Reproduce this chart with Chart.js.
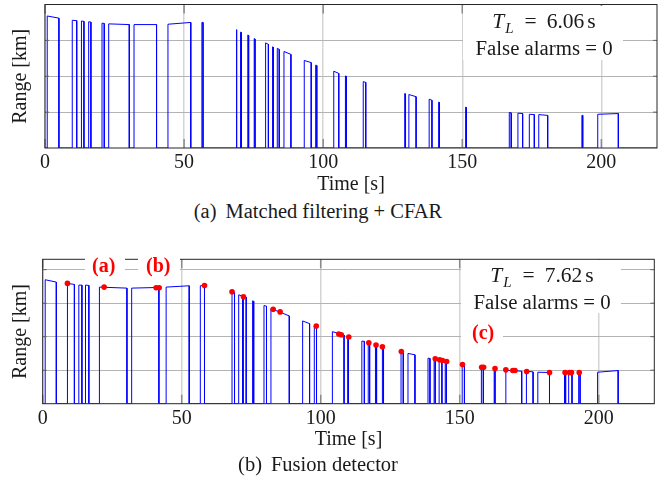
<!DOCTYPE html>
<html><head><meta charset="utf-8">
<script src="https://cdn.jsdelivr.net/npm/chart.js@4.4.0/dist/chart.umd.min.js"></script>
<style>
html,body{margin:0;padding:0;background:#fff;}
body{width:662px;height:486px;position:relative;overflow:hidden;font-family:"Liberation Serif","Times New Roman",serif;color:#1a1a1a;}
canvas{position:absolute;left:0;}
.box{position:absolute;background:#fff;}
.txt{position:absolute;text-align:center;white-space:nowrap;font-size:20.8px;}
.l1{font-size:21.5px;}
.sub{font-size:15px;font-style:italic;position:relative;top:5px;margin-left:1px;}
.eq{margin:0 10px 0 11px;}
.lbl{position:absolute;color:#f00;font-weight:bold;font-size:20px;line-height:20px;white-space:nowrap;}
.cap{position:absolute;left:0;width:636px;text-align:center;font-size:20.5px;line-height:22px;white-space:nowrap;}
.cl{margin-right:9px;}
</style></head><body>
<canvas id="cA" width="662" height="200" style="top:0"></canvas>
<canvas id="cB" width="662" height="200" style="top:255px"></canvas>

<div class="box" style="left:463px;top:5.5px;width:160px;height:54px"></div>
<div class="txt" style="left:463px;top:9.1px;width:162px;line-height:24.4px"><span class="l1"><i>T</i><span class="sub">L</span><span class="eq">=</span>6.06<span style="margin-left:3px">s</span></span><br>False alarms = 0</div>
<div class="cap" style="top:200.4px"><span class="cl">(a)</span>Matched filtering + CFAR</div>

<div class="box" style="left:461px;top:260px;width:160px;height:53px"></div>
<div class="txt" style="left:461px;top:263.3px;width:162px;line-height:23.4px"><span class="l1"><i>T</i><span class="sub">L</span><span class="eq">=</span>7.62<span style="margin-left:3px">s</span></span><br>False alarms = 0</div>
<div class="box" style="left:461px;top:325px;width:42px;height:21px"></div>
<div class="lbl" style="left:472px;top:321.5px">(c)</div>
<div class="box" style="left:85px;top:257px;width:40px;height:22px"></div>
<div class="lbl" style="left:92px;top:254.5px">(a)</div>
<div class="box" style="left:138px;top:257px;width:42px;height:22px"></div>
<div class="lbl" style="left:146px;top:254.5px">(b)</div>
<div class="cap" style="top:453.4px"><span class="cl">(b)</span>Fusion detector</div>

<script>
// ---------- data ----------
const xTicks = [0, 50, 100, 150, 200];
const yTicksA = [1, 2, 3];
const yTicksB = [1, 2, 3, 4];
const timeMax = 220;

// (a) Matched filtering + CFAR : detection pulses
const startA = [0.8, 9.8, 13.1, 15.7, 20.5, 22.9, 32.0, 44.2, 56.4, 68.7, 70.3, 72.9, 75.2, 79.3, 81.8, 83.5, 85.9, 93.2, 97.3, 103.8, 108.0, 114.4, 129.3, 130.8, 138.1, 141.5, 151.2, 166.9, 170.0, 174.1, 177.5, 193.0, 198.7];
const endA   = [5.0, 11.4, 14.0, 16.5, 21.3, 30.3, 40.1, 52.4, 56.8, 69.0, 70.6, 73.2, 75.5, 80.3, 82.1, 84.2, 88.4, 95.7, 97.7, 105.6, 108.3, 115.3, 129.6, 133.4, 139.1, 141.8, 151.5, 167.6, 171.7, 175.9, 180.7, 193.3, 206.1];
const rangeStartA = [3.68, 3.56, 3.54, 3.52, 3.48, 3.46, 3.44, 3.45, 3.50, 3.30, 3.23, 3.15, 3.05, 2.93, 2.82, 2.78, 2.69, 2.44, 2.31, 2.14, 2.01, 1.85, 1.52, 1.49, 1.36, 1.28, 1.14, 0.99, 0.97, 0.94, 0.93, 0.91, 0.94];
const rangeEndA   = [3.62, 3.55, 3.53, 3.51, 3.47, 3.44, 3.44, 3.50, 3.50, 3.29, 3.22, 3.14, 3.04, 2.89, 2.81, 2.75, 2.61, 2.38, 2.30, 2.08, 2.00, 1.83, 1.51, 1.43, 1.33, 1.27, 1.13, 0.98, 0.96, 0.93, 0.91, 0.91, 0.96];

// (b) Fusion detector : detection pulses
const startB = [0.9, 8.9, 13.0, 15.4, 20.4, 32.0, 44.4, 56.7, 68.1, 70.5, 72.2, 75.5, 79.6, 82.1, 93.5, 97.7, 104.2, 109.7, 114.8, 117.1, 119.7, 122.2, 128.9, 131.4, 138.6, 140.8, 142.6, 144.8, 150.9, 157.8, 162.4, 166.6, 174.0, 178.1, 187.7, 189.2, 192.8, 199.6];
const endB   = [4.9, 11.4, 14.1, 16.6, 30.3, 41.8, 52.7, 58.2, 69.0, 71.9, 73.2, 75.9, 80.5, 88.7, 96.0, 98.5, 108.4, 110.0, 115.7, 117.6, 120.1, 122.6, 129.7, 133.9, 139.3, 141.2, 143.6, 145.2, 151.7, 158.5, 162.7, 172.3, 176.4, 182.3, 188.1, 190.4, 193.3, 207.0];
const rangeStartB = [3.70, 3.59, 3.54, 3.54, 3.48, 3.45, 3.48, 3.52, 3.34, 3.25, 3.20, 3.07, 2.93, 2.84, 2.47, 2.32, 2.15, 2.00, 1.87, 1.82, 1.76, 1.70, 1.55, 1.50, 1.36, 1.33, 1.30, 1.26, 1.18, 1.09, 1.05, 1.00, 0.97, 0.94, 0.93, 0.93, 0.93, 0.94];
const rangeEndB   = [3.63, 3.56, 3.54, 3.53, 3.45, 3.47, 3.52, 3.53, 3.32, 3.21, 3.18, 3.06, 2.91, 2.62, 2.39, 2.31, 2.05, 1.99, 1.86, 1.82, 1.75, 1.70, 1.54, 1.46, 1.35, 1.33, 1.28, 1.26, 1.17, 1.08, 1.05, 0.97, 0.95, 0.93, 0.93, 0.93, 0.93, 0.99];

// (b) fused detections (red markers)
const dotTimeB  = [8.9, 22.1, 40.8, 41.9, 58.2, 68.1, 72.2, 82.9, 85.4, 98.4, 106.5, 107.4, 110.1, 117.3, 119.9, 122.2, 129.0, 141.2, 142.8, 143.8, 145.3, 151.0, 157.9, 158.6, 162.7, 166.6, 169.1, 169.9, 174.1, 182.3, 187.9, 189.5, 190.2, 193.0];
const dotRangeB = [3.59, 3.48, 3.46, 3.46, 3.53, 3.34, 3.19, 2.82, 2.74, 2.32, 2.08, 2.06, 1.99, 1.82, 1.75, 1.70, 1.56, 1.34, 1.31, 1.29, 1.26, 1.17, 1.09, 1.09, 1.05, 1.01, 0.99, 0.99, 0.96, 0.93, 0.93, 0.93, 0.93, 0.93];

// ---------- helpers ----------
function buildTrace(ts, te, rs, re) {
  const pts = [{x: 0, y: 0}];
  for (let i = 0; i < ts.length; i++) {
    pts.push({x: ts[i], y: 0}, {x: ts[i], y: rs[i]}, {x: te[i], y: re[i]}, {x: te[i], y: 0});
  }
  pts.push({x: timeMax, y: 0});
  return pts;
}

const FONT = '"Liberation Serif","Times New Roman",serif';
const TXT = '#1a1a1a';

const framePlugin = {
  id: 'frame',
  afterDatasetsDraw(chart) {
    const {ctx, chartArea: a, scales: {x, y}} = chart;
    ctx.save();
    ctx.lineWidth = 1.5;
    ctx.strokeStyle = '#8a8a8a';
    x.ticks.forEach(t => {
      const p = x.getPixelForValue(t.value);
      ctx.beginPath();
      ctx.moveTo(p, a.top); ctx.lineTo(p, a.top + 9);
      ctx.moveTo(p, a.bottom); ctx.lineTo(p, a.bottom - 9);
      ctx.stroke();
    });
    ctx.lineWidth = 1;
    ctx.strokeStyle = '#666';
    y.ticks.forEach(t => {
      const p = y.getPixelForValue(t.value);
      ctx.beginPath();
      ctx.moveTo(a.left, p); ctx.lineTo(a.left + 4, p);
      ctx.moveTo(a.right, p); ctx.lineTo(a.right - 4, p);
      ctx.stroke();
    });
    ctx.strokeStyle = '#262626';
    ctx.lineWidth = 1;
    ctx.strokeRect(a.left, a.top, a.right - a.left, a.bottom - a.top);
    ctx.restore();
  }
};

function makeChart(id, cfg) {
  const datasets = [{
    type: 'line',
    data: buildTrace(cfg.ts, cfg.te, cfg.rs, cfg.re),
    borderColor: '#0000ff',
    borderWidth: 1,
    pointRadius: 0,
    tension: 0,
    fill: false,
    order: 2
  }];
  if (cfg.dotsX) {
    datasets.push({
      type: 'scatter',
      data: cfg.dotsX.map((v, i) => ({x: v, y: cfg.dotsY[i]})),
      pointRadius: 2.8,
      pointBackgroundColor: '#ff0000',
      pointBorderWidth: 0,
      borderColor: '#ff0000',
      showLine: false,
      order: 1
    });
  }
  return new Chart(document.getElementById(id), {
    type: 'line',
    data: {datasets},
    plugins: [framePlugin],
    options: {
      responsive: false,
      animation: false,
      events: [],
      layout: {padding: {top: cfg.padTop, right: cfg.padRight, left: 0, bottom: 0}},
      plugins: {legend: {display: false}, tooltip: {enabled: false}},
      scales: {
        x: {
          type: 'linear', min: 0, max: timeMax,
          afterBuildTicks: s => { s.ticks = xTicks.map(v => ({value: v})); },
          afterFit: s => { s.height = cfg.xHeight; },
          ticks: {padding: 3, font: {family: FONT, size: 20}, color: TXT, maxRotation: 0, autoSkip: false, callback: v => String(v)},
          grid: {color: '#d4d4d4', lineWidth: 1.5, drawTicks: false},
          border: {display: false},
          title: {display: true, text: 'Time [s]', font: {family: FONT, size: 20}, color: TXT, padding: {top: 0, bottom: 3.3}}
        },
        y: {
          type: 'linear', min: 0, max: cfg.yMax,
          afterBuildTicks: s => { s.ticks = cfg.yTicks.map(v => ({value: v})); },
          afterFit: s => { s.width = cfg.yWidth; },
          ticks: {display: false},
          grid: {color: '#b3b3b3', lineWidth: 1, drawTicks: false},
          border: {display: false},
          title: {display: true, text: 'Range [km]', font: {family: FONT, size: 20}, color: TXT, padding: {top: 9, bottom: 0}}
        }
      }
    }
  });
}

makeChart('cA', {ts: startA, te: endA, rs: rangeStartA, re: rangeEndA,
  yMax: 4, yTicks: yTicksA, padTop: 4.5, padRight: 5, yWidth: 45, xHeight: 52});
makeChart('cB', {ts: startB, te: endB, rs: rangeStartB, re: rangeEndB, dotsX: dotTimeB, dotsY: dotRangeB,
  yMax: 4.31, yTicks: yTicksB, padTop: 4.3, padRight: 7.7, yWidth: 42.7, xHeight: 51.3});
</script>
</body></html>
